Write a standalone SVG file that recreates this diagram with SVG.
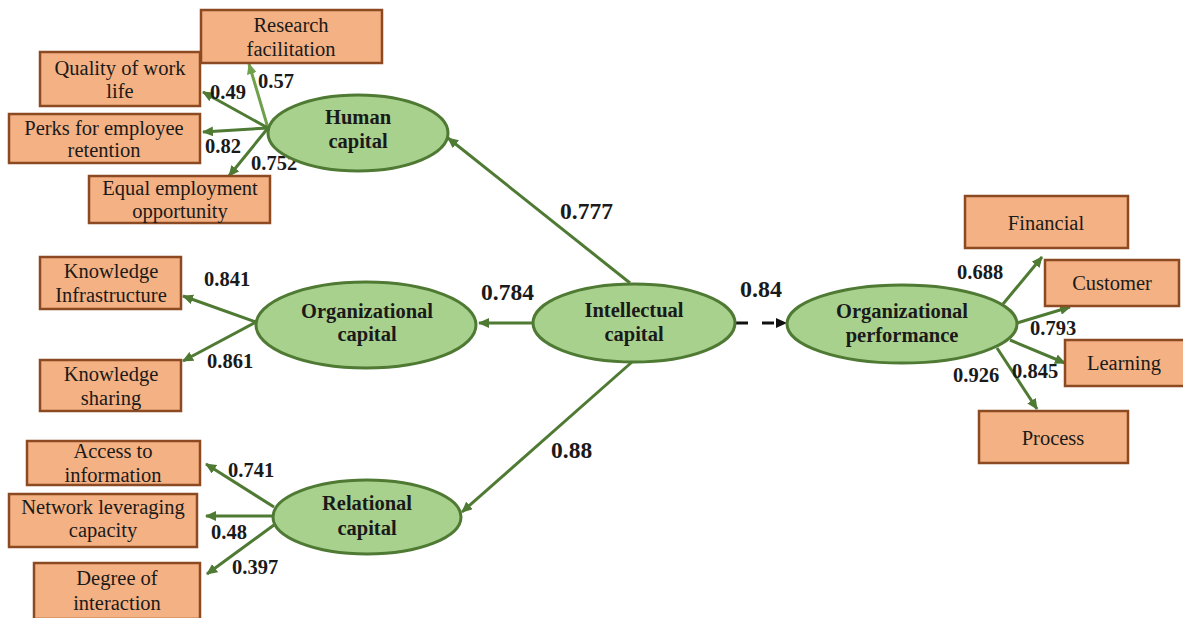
<svg xmlns="http://www.w3.org/2000/svg" width="1183" height="618" viewBox="0 0 1183 618">
<style>
.box{fill:#F4B183;stroke:#8B4A22;stroke-width:2.5}
.ell{fill:#A9D18E;stroke:#4F7A33;stroke-width:3}
text{font-family:"Liberation Serif","DejaVu Serif",serif;fill:#1a1a1a}
.bt{font-size:20.5px;text-anchor:middle}
.et{font-size:20.5px;font-weight:bold;text-anchor:middle}
.lb{font-size:20.5px;font-weight:bold}
.lb2{font-size:23.5px;font-weight:bold}
.ln{stroke:#4F7A33;stroke-width:3;fill:none;marker-end:url(#ag)}
</style>
<defs>
<marker id="ag" markerUnits="userSpaceOnUse" markerWidth="12" markerHeight="10" refX="10" refY="5" orient="auto">
<path d="M0,0 L11,5 L0,10 Z" fill="#4F7A33"/>
</marker>
<marker id="agl" markerUnits="userSpaceOnUse" markerWidth="12" markerHeight="10" refX="10" refY="5" orient="auto">
<path d="M0,0 L11,5 L0,10 Z" fill="#6FA04A"/>
</marker>
<marker id="ak" markerUnits="userSpaceOnUse" markerWidth="12" markerHeight="10" refX="10" refY="5" orient="auto">
<path d="M0,0 L11,5 L0,10 Z" fill="#111"/>
</marker>
</defs>
<rect width="1183" height="618" fill="#fff"/>

<g id="connectors">
<line class="ln" x1="630" y1="283" x2="448" y2="138"/>
<line class="ln" x1="533" y1="323" x2="479" y2="323"/>
<line class="ln" x1="632" y1="362" x2="462" y2="512"/>
<line x1="736" y1="323" x2="786" y2="323" stroke="#111" stroke-width="3" stroke-dasharray="12,14" marker-end="url(#ak)"/>
<line x1="268" y1="128" x2="249" y2="64" stroke="#6FA04A" stroke-width="3" marker-end="url(#agl)"/>
<line class="ln" x1="268" y1="128" x2="203" y2="92"/>
<line class="ln" x1="268" y1="128" x2="203" y2="132"/>
<line class="ln" x1="268" y1="128" x2="229" y2="176"/>
<line class="ln" x1="256" y1="322" x2="183" y2="296"/>
<line class="ln" x1="256" y1="322" x2="183" y2="361"/>
<line class="ln" x1="274" y1="507" x2="206" y2="464"/>
<line class="ln" x1="274" y1="516" x2="206" y2="516"/>
<line class="ln" x1="274" y1="525" x2="207" y2="574"/>
<line class="ln" x1="1003" y1="304" x2="1042" y2="257"/>
<line class="ln" x1="1017" y1="323" x2="1070" y2="307"/>
<line class="ln" x1="1010" y1="340" x2="1065" y2="363"/>
<line class="ln" x1="997" y1="348" x2="1037" y2="409"/>
</g>

<g id="labels">
<text class="lb" x="258" y="88">0.57</text>
<text class="lb" x="210" y="99">0.49</text>
<text class="lb" x="205" y="153">0.82</text>
<text class="lb" x="251" y="170">0.752</text>
<text class="lb" x="204" y="286">0.841</text>
<text class="lb" x="207" y="368">0.861</text>
<text class="lb" x="228" y="477">0.741</text>
<text class="lb" x="211" y="539">0.48</text>
<text class="lb" x="232" y="574">0.397</text>
<text class="lb2" x="560" y="219">0.777</text>
<text class="lb2" x="481" y="300">0.784</text>
<text class="lb2" x="740" y="297" style="font-size:24px">0.84</text>
<text class="lb2" x="551" y="458">0.88</text>
<text class="lb" x="957" y="279">0.688</text>
<text class="lb" x="1030" y="335">0.793</text>
<text class="lb" x="953" y="382">0.926</text>
<text class="lb" x="1012" y="378">0.845</text>
</g>

<g id="research"><rect class="box" x="201" y="10" width="181" height="53"/><text class="bt" x="291" y="32">Research</text><text class="bt" x="291" y="56">facilitation</text></g>
<g id="quality"><rect class="box" x="40" y="52" width="160" height="54"/><text class="bt" x="120" y="75">Quality of work</text><text class="bt" x="120" y="98">life</text></g>
<g id="perks"><rect class="box" x="9" y="114" width="191" height="49"/><text class="bt" x="104" y="135">Perks for employee</text><text class="bt" x="104" y="157">retention</text></g>
<g id="equal"><rect class="box" x="89" y="176" width="181" height="47"/><text class="bt" x="180" y="195">Equal employment</text><text class="bt" x="180" y="218">opportunity</text></g>
<g id="kinfra"><rect class="box" x="40" y="257" width="141" height="52"/><text class="bt" x="111" y="278">Knowledge</text><text class="bt" x="111" y="302">Infrastructure</text></g>
<g id="kshare"><rect class="box" x="40" y="360" width="141" height="51"/><text class="bt" x="111" y="381">Knowledge</text><text class="bt" x="111" y="405">sharing</text></g>
<g id="access"><rect class="box" x="27" y="441" width="173" height="44"/><text class="bt" x="113" y="458">Access to</text><text class="bt" x="113" y="482">information</text></g>
<g id="network"><rect class="box" x="9" y="494" width="188" height="53"/><text class="bt" x="103" y="514">Network leveraging</text><text class="bt" x="103" y="537">capacity</text></g>
<g id="degree"><rect class="box" x="34" y="563" width="166" height="56"/><text class="bt" x="117" y="585">Degree of</text><text class="bt" x="117" y="610">interaction</text></g>
<g id="financial"><rect class="box" x="965" y="196" width="163" height="52"/><text class="bt" x="1046" y="230">Financial</text></g>
<g id="customer"><rect class="box" x="1045" y="260" width="134" height="46"/><text class="bt" x="1112" y="290">Customer</text></g>
<g id="learning"><rect class="box" x="1065" y="340" width="120" height="46"/><text class="bt" x="1124" y="370">Learning</text></g>
<g id="process"><rect class="box" x="979" y="411" width="149" height="52"/><text class="bt" x="1053" y="445">Process</text></g>

<g id="human"><ellipse class="ell" cx="358" cy="133" rx="90" ry="38"/><text class="et" x="358" y="124">Human</text><text class="et" x="358" y="148">capital</text></g>
<g id="orgcap"><ellipse class="ell" cx="366" cy="325" rx="110" ry="43"/><text class="et" x="367" y="318">Organizational</text><text class="et" x="367" y="341">capital</text></g>
<g id="relational"><ellipse class="ell" cx="367" cy="517" rx="94" ry="37"/><text class="et" x="367" y="510">Relational</text><text class="et" x="367" y="535">capital</text></g>
<g id="intellectual"><ellipse class="ell" cx="634" cy="323" rx="101" ry="39"/><text class="et" x="634" y="317">Intellectual</text><text class="et" x="634" y="341">capital</text></g>
<g id="orgperf"><ellipse class="ell" cx="902" cy="324" rx="115" ry="39"/><text class="et" x="902" y="318">Organizational</text><text class="et" x="902" y="342">performance</text></g>
</svg>
